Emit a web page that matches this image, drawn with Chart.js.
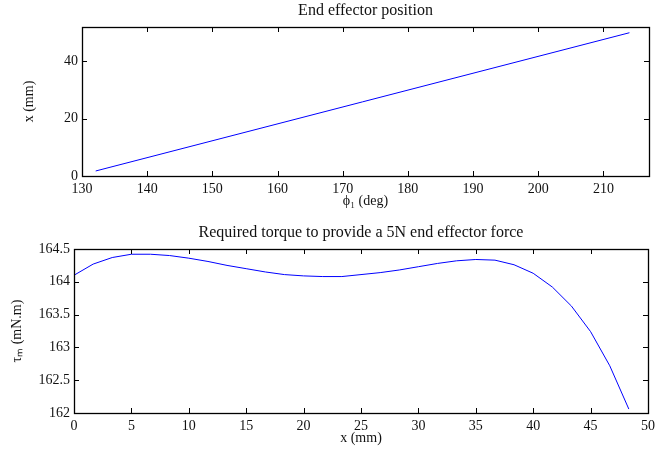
<!DOCTYPE html>
<html><head><meta charset="utf-8">
<script src="https://cdn.jsdelivr.net/npm/chart.js@4/dist/chart.umd.min.js"></script>
<style>
html,body{margin:0;padding:0;background:#fff;width:655px;height:454px;overflow:hidden}
#c1{position:absolute;left:0;top:0}
#c2{position:absolute;left:0;top:220px}
</style>
</head><body>
<canvas id="c1" width="655" height="216"></canvas>
<canvas id="c2" width="655" height="234"></canvas>
<script>
// ---- data ----
const phiDeg = [132.1, 214.0];
const posMm = [1.75, 50.0];

const xMm = [0, 1.67, 3.33, 5.0, 6.67, 8.33, 10.0, 11.67, 13.33, 15.0, 16.67, 18.33, 20.0, 21.67, 23.33,
             25.0, 26.67, 28.33, 30.0, 31.67, 33.33, 35.0, 36.67, 38.33, 40.0, 41.67, 43.33, 45.0, 46.67, 48.33];
const torque = [164.10, 164.27, 164.37, 164.42, 164.42, 164.40, 164.36, 164.31, 164.25, 164.20, 164.15, 164.11, 164.09, 164.08, 164.08,
                164.11, 164.14, 164.18, 164.23, 164.28, 164.32, 164.34, 164.33, 164.26, 164.13, 163.92, 163.63, 163.24, 162.72, 162.06];

const phiTicks = [130, 140, 150, 160, 170, 180, 190, 200, 210];
const posTicks = [0, 20, 40];
const xTicks = [0, 5, 10, 15, 20, 25, 30, 35, 40, 45, 50];
const torqueTicks = [162, 162.5, 163, 163.5, 164, 164.5];

const FONT = "'Liberation Serif', 'Times New Roman', serif";
const TXT = '#111';

const frame = {
  id: 'frame',
  afterDatasetsDraw(chart) {
    const {ctx, chartArea: a, scales: {x, y}} = chart;
    ctx.save();
    ctx.strokeStyle = '#000';
    ctx.lineWidth = 1;
    ctx.beginPath();
    const L = 5;
    x.ticks.forEach(t => {
      const px = Math.round(x.getPixelForValue(t.value)) + 0.5;
      ctx.moveTo(px, a.bottom); ctx.lineTo(px, a.bottom - L);
      ctx.moveTo(px, a.top); ctx.lineTo(px, a.top + L);
    });
    y.ticks.forEach(t => {
      const py = Math.round(y.getPixelForValue(t.value)) + 0.5;
      ctx.moveTo(a.left, py); ctx.lineTo(a.left + L, py);
      ctx.moveTo(a.right, py); ctx.lineTo(a.right - L, py);
    });
    ctx.stroke();
    ctx.lineWidth = 1.3;
    ctx.strokeRect(Math.round(a.left) + 0.5, Math.round(a.top) + 0.5,
                   Math.round(a.right - a.left), Math.round(a.bottom - a.top));
    ctx.restore();
  }
};

function makeChart(id, cfg) {
  return new Chart(document.getElementById(id), {
    type: 'line',
    data: {
      datasets: [{
        data: cfg.xs.map((v, i) => ({x: v, y: cfg.ys[i]})),
        borderColor: '#0000ff',
        borderWidth: 1,
        pointRadius: 0,
        tension: 0,
        fill: false
      }]
    },
    options: {
      responsive: false,
      animation: false,
      events: [],
      layout: {padding: {left: 0, right: cfg.padRight, top: 0, bottom: 0}},
      plugins: {
        legend: {display: false},
        tooltip: {enabled: false},
        title: {
          display: true, text: cfg.title, fullSize: false, color: TXT,
          font: {family: FONT, size: 16, weight: 'normal', lineHeight: 1.2},
          padding: {top: cfg.titleTop, bottom: cfg.titleBottom}
        }
      },
      scales: {
        x: {
          type: 'linear', min: cfg.xmin, max: cfg.xmax,
          grid: {display: false, drawTicks: false},
          border: {display: false},
          afterBuildTicks: s => { s.ticks = cfg.xTicks.map(v => ({value: v})); },
          afterFit: s => { s.height = cfg.xAxisH; s.paddingLeft = 0; s.paddingRight = 0; },
          ticks: {color: TXT, font: {family: FONT, size: 14}, padding: 5, maxRotation: 0, autoSkip: false,
                  callback: v => String(v)},
          title: {display: true, text: cfg.xTitle, color: TXT,
                  font: {family: FONT, size: 14, lineHeight: 1.2}, padding: {top: 0, bottom: cfg.xTitleBottom}}
        },
        y: {
          type: 'linear', min: cfg.ymin, max: cfg.ymax,
          grid: {display: false, drawTicks: false},
          border: {display: false},
          afterBuildTicks: s => { s.ticks = cfg.yTicks.map(v => ({value: v})); },
          afterFit: s => { s.width = cfg.yAxisW; s.paddingTop = 0; s.paddingBottom = 0; },
          ticks: {color: TXT, font: {family: FONT, size: 14}, padding: 4, autoSkip: false,
                  callback: v => String(v)},
          title: {display: true, text: cfg.yTitle, color: TXT,
                  font: {family: FONT, size: 14, lineHeight: 1.2}, padding: {top: cfg.yTitleLeft, bottom: 0}}
        }
      }
    },
    plugins: [frame]
  });
}

makeChart('c1', {
  xs: phiDeg, ys: posMm, title: 'End effector position',
  xmin: 130, xmax: 217, ymin: 0, ymax: 52,
  xTicks: phiTicks, yTicks: posTicks,
  xTitle: 'ϕ₁ (deg)', yTitle: 'x (mm)',
  yAxisW: 82, xAxisH: 40, padRight: 6,
  titleTop: 1, titleBottom: 6.8, xTitleBottom: 6, yTitleLeft: 21
});

makeChart('c2', {
  xs: xMm, ys: torque, title: 'Required torque to provide a 5N end effector force',
  xmin: 0, xmax: 50, ymin: 162, ymax: 164.5,
  xTicks: xTicks, yTicks: torqueTicks,
  xTitle: 'x (mm)', yTitle: 'τₘ (mN.m)',
  yAxisW: 74, xAxisH: 41, padRight: 7,
  titleTop: 3, titleBottom: 6.8, xTitleBottom: 7, yTitleLeft: 9
});
</script>
</body></html>
